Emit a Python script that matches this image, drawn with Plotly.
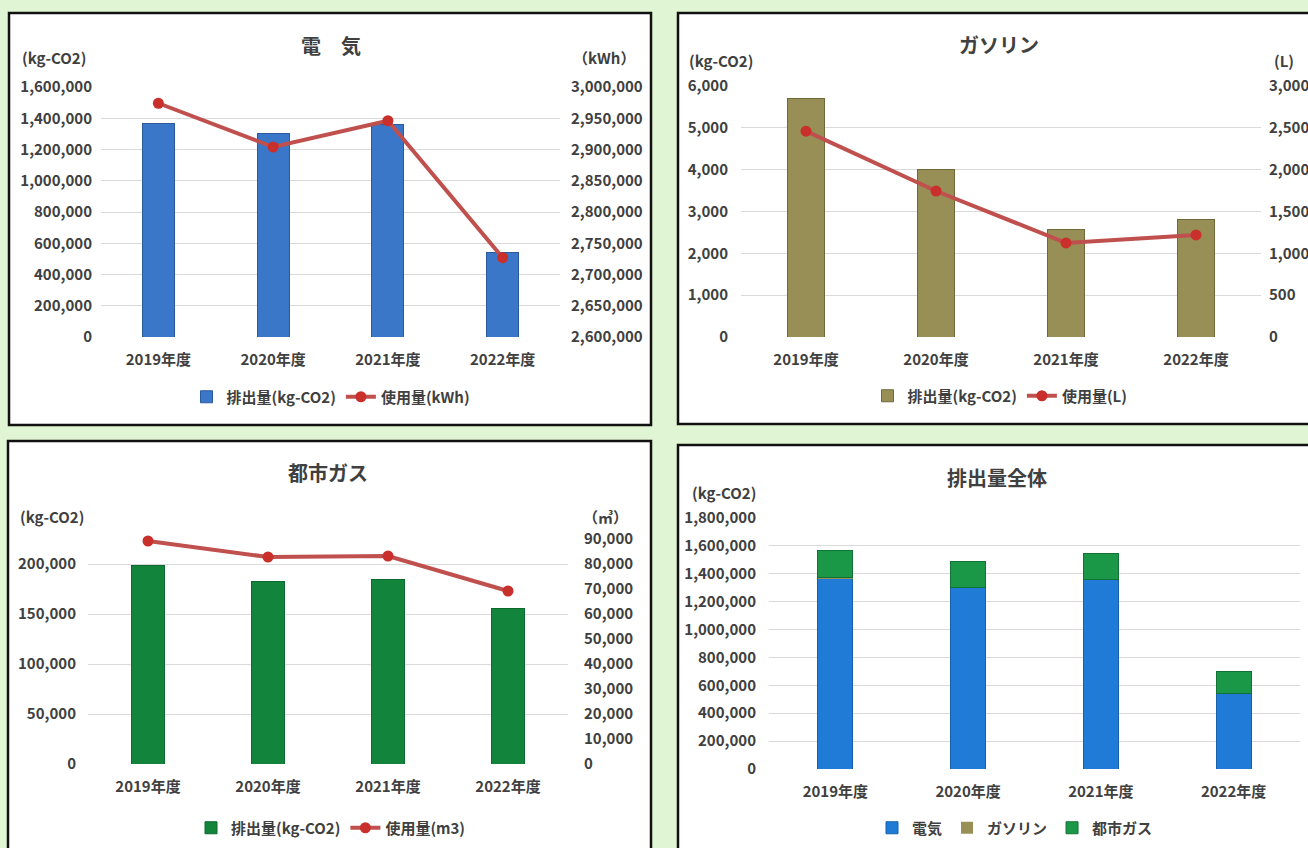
import plotly.graph_objects as go

# ---------------- data ----------------
years = ["2019年度", "2020年度", "2021年度", "2022年度"]
elec_co2 = [1365000, 1300000, 1357000, 538000]
elec_kwh = [2974000, 2904000, 2946000, 2727000]
gasoline_co2 = [5700, 4000, 2580, 2800]
gasoline_l = [2460, 1745, 1125, 1220]
citygas_co2 = [199000, 183000, 185000, 156000]
citygas_m3 = [89200, 82800, 83200, 69200]

W, H = 1308, 848
FONT = "Noto Sans CJK JP"
TXT = "#404040"
GRID = "#d9d9d9"
RED = "#c0504d"
MRED = "#c9302c"
BG = "#e0f5d3"


def px(x):
    return x / W


def py(y):
    return 1 - y / H


fig = go.Figure()

# ---- panel 1: 電気 ----
fig.add_trace(go.Bar(x=years, y=elec_co2, name="排出量(kg-CO2)", width=0.28,
                     marker=dict(color="#3a77c8", line=dict(color="#2b5a9c", width=1)),
                     xaxis="x", yaxis="y", legend="legend"))
fig.add_trace(go.Scatter(x=years, y=elec_kwh, name="使用量(kWh)", mode="lines+markers",
                         line=dict(color=RED, width=4), marker=dict(color=MRED, size=11),
                         xaxis="x", yaxis="y2", legend="legend"))

# ---- panel 2: ガソリン ----
fig.add_trace(go.Bar(x=years, y=gasoline_co2, name="排出量(kg-CO2)", width=0.285,
                     marker=dict(color="#978f56", line=dict(color="#6f6838", width=1)),
                     xaxis="x2", yaxis="y3", legend="legend2"))
fig.add_trace(go.Scatter(x=years, y=gasoline_l, name="使用量(L)", mode="lines+markers",
                         line=dict(color=RED, width=4), marker=dict(color=MRED, size=11),
                         xaxis="x2", yaxis="y4", legend="legend2"))

# ---- panel 3: 都市ガス ----
fig.add_trace(go.Bar(x=years, y=citygas_co2, name="排出量(kg-CO2)", width=0.28,
                     marker=dict(color="#12843b", line=dict(color="#0b6a2c", width=1)),
                     xaxis="x3", yaxis="y5", legend="legend3"))
fig.add_trace(go.Scatter(x=years, y=citygas_m3, name="使用量(m3)", mode="lines+markers",
                         line=dict(color=RED, width=4), marker=dict(color=MRED, size=11),
                         xaxis="x3", yaxis="y6", legend="legend3"))

# ---- panel 4: 排出量全体 (stacked) ----
fig.add_trace(go.Bar(x=years, y=elec_co2, name="電気", width=0.265,
                     marker=dict(color="#1f7bd6", line=dict(color="#1660ad", width=1)),
                     xaxis="x4", yaxis="y7", legend="legend4"))
fig.add_trace(go.Bar(x=years, y=gasoline_co2, name="ガソリン", width=0.265,
                     marker=dict(color="#978f56", line=dict(color="#6f6838", width=0)),
                     xaxis="x4", yaxis="y7", legend="legend4"))
fig.add_trace(go.Bar(x=years, y=citygas_co2, name="都市ガス", width=0.265,
                     marker=dict(color="#1a9847", line=dict(color="#107235", width=1)),
                     xaxis="x4", yaxis="y7", legend="legend4"))

tickfont = dict(family=FONT, size=15, color=TXT, weight="bold")
catfont = dict(family=FONT, size=15, color=TXT, weight="bold")


def xax(l, r, anchor):
    return dict(domain=[px(l), px(r)], type="category", range=[-0.5, 3.5],
                anchor=anchor, showgrid=False, zeroline=False, showline=False,
                ticks="", tickfont=catfont, ticklabelstandoff=12, fixedrange=True)


def yleft(top, bot, rng, tv, tt, anchor, standoff):
    return dict(domain=[py(bot), py(top)], range=rng, tickvals=tv, ticktext=tt,
                showgrid=True, gridcolor=GRID, gridwidth=1, zeroline=False,
                showline=False, ticks="", tickfont=tickfont, anchor=anchor,
                ticklabelstandoff=standoff, fixedrange=True)


def yright(top, bot, rng, tv, tt, anchor, over, standoff):
    return dict(domain=[py(bot), py(top)], range=rng, tickvals=tv, ticktext=tt,
                overlaying=over, side="right", showgrid=False, zeroline=False,
                showline=False, ticks="", tickfont=tickfont, anchor=anchor,
                ticklabelstandoff=standoff, fixedrange=True)


def fmt(v):
    return f"{v:,}"


t1 = list(range(0, 1600001, 200000))
t1r = list(range(2600000, 3000001, 50000))
t2 = list(range(0, 6001, 1000))
t2r = list(range(0, 3001, 500))
t3 = list(range(0, 250001, 50000))
t3r = list(range(0, 100001, 10000))
t4 = list(range(0, 1800001, 200000))

layout = dict(
    width=W, height=H, margin=dict(l=0, r=0, t=0, b=0, autoexpand=False),
    paper_bgcolor=BG, plot_bgcolor="rgba(0,0,0,0)",
    barmode="stack", showlegend=True,
    font=dict(family=FONT, color=TXT),
    xaxis=xax(101, 560, "y"),
    yaxis=yleft(87, 337, [0, 1600000], t1, [fmt(v) for v in t1], "x", 8),
    yaxis2=yright(87, 337, [2600000, 3000000], t1r, [fmt(v) for v in t1r], "x", "y", 10),
    xaxis2=xax(741, 1261, "y3"),
    yaxis3=yleft(86, 337, [0, 6000], t2, [fmt(v) for v in t2], "x2", 12),
    yaxis4=yright(86, 337, [0, 3000], t2r, [fmt(v) for v in t2r], "x2", "y3", 7),
    xaxis3=xax(88, 568, "y5"),
    yaxis5=yleft(514, 764, [0, 250000], t3, [fmt(v) for v in t3[:-1]] + [""], "x3", 11),
    yaxis6=yright(514, 764, [0, 100000], t3r, [fmt(v) for v in t3r[:-1]] + [""], "x3", "y5", 15),
    xaxis4=xax(769, 1300, "y7"),
    yaxis7=yleft(518, 769, [0, 1800000], t4, [fmt(v) for v in t4], "x4", 12),
)

legfont = dict(family=FONT, size=15, color=TXT, weight="bold")
for key, (cx, cy) in zip(["legend", "legend2", "legend3", "legend4"],
                         [(331, 397), (1000, 396), (331, 828), (1015, 828)]):
    layout[key] = dict(x=px(cx), y=py(cy), xanchor="center", yanchor="middle",
                       orientation="h", bgcolor="rgba(0,0,0,0)", font=legfont,
                       itemclick=False, itemdoubleclick=False, traceorder="normal")

fig.update_layout(**layout)

# panel boxes
boxes = [(9, 13, 651, 425), (678, 13, 1325, 424), (8, 441, 651, 870), (678, 445, 1325, 870)]
for (x0, y0, x1, y1) in boxes:
    fig.add_shape(type="rect", xref="paper", yref="paper", x0=px(x0), x1=px(x1),
                  y0=py(y1), y1=py(y0), fillcolor="white",
                  line=dict(color="#111111", width=2.5), layer="below")

# titles
titles = [("電　気", 331, 45), ("ガソリン", 999, 44), ("都市ガス", 328, 473), ("排出量全体", 997, 477)]
for text, cx, cy in titles:
    fig.add_annotation(text=text, x=px(cx), y=py(cy), xref="paper", yref="paper",
                       showarrow=False, xanchor="center", yanchor="middle",
                       font=dict(family=FONT, size=20, color=TXT, weight="bold"))

# unit labels
units = [("(kg-CO2)", 54, 57), ("（kWh）", 604, 57), ("(kg-CO2)", 721, 60), ("(L)", 1284, 60),
         ("(kg-CO2)", 52, 516), ("（㎥）", 605, 516), ("(kg-CO2)", 724, 492)]
for text, cx, cy in units:
    fig.add_annotation(text=text, x=px(cx), y=py(cy), xref="paper", yref="paper",
                       showarrow=False, xanchor="center", yanchor="middle",
                       font=dict(family=FONT, size=15, color=TXT, weight="bold"))

fig.write_html(
    "out.html",
    config={"displayModeBar": False},
    post_script="document.body.style.margin='0';document.body.style.background='" + BG + "';"
                "document.body.style.overflow='hidden';",
)
